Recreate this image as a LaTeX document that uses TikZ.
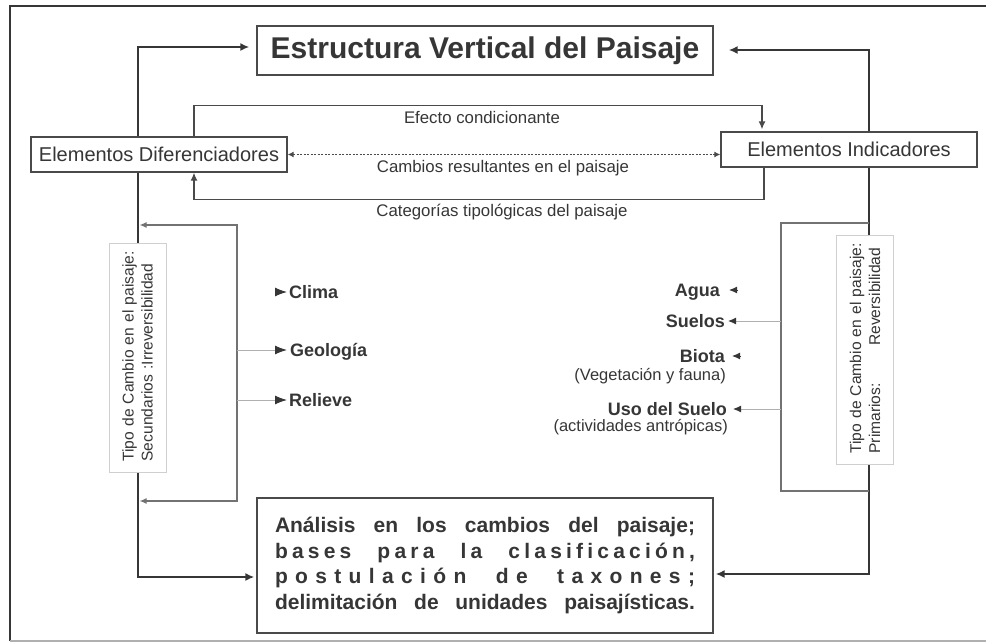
\documentclass[tikz,border=0pt]{standalone}
\usepackage{fontspec}
\setmainfont{Liberation Sans}
\usepackage{tikz}
\usetikzlibrary{arrows.meta,positioning,backgrounds}

\definecolor{ink}{HTML}{363636}
\definecolor{faint}{HTML}{B0B0B0}
\definecolor{pale}{HTML}{CFCFCF}

\newcommand{\wordgap}{\hspace{0.3em plus 1fil}}
\newcommand{\sideindent}{\hspace*{9pt}}

\tikzset{
	heavy/.style={draw=ink,line width=2.6pt},
	light/.style={draw=ink!90,line width=1.3pt},
	bracket/.style={draw=ink!70,line width=1.4pt},
	feeder/.style={draw=faint,line width=1pt},
	framebox/.style={draw=ink!90,line width=1.3pt,fill=white,inner sep=0pt,text=ink},
	sidebox/.style={draw=pale,line width=1pt,fill=white,rotate=90,inner sep=0pt,text=ink,align=left,
		minimum width=229pt,minimum height=57pt,text width=226pt,font=\fontsize{15.6}{19}\selectfont},
	item/.style={inner sep=0pt,text=ink,text height=13pt,text depth=0pt,font=\bfseries\fontsize{18}{20}\selectfont},
	note/.style={inner sep=0pt,text=ink,font=\fontsize{16.5}{19}\selectfont},
	linklabel/.style={inner sep=0pt,text=ink,font=\fontsize{16.8}{19}\selectfont},
}

\begin{document}
\begin{tikzpicture}[x=1pt,y=-1pt]
	\useasboundingbox (0,0) rectangle (986,643);
	% frame
	\draw[heavy] (986,6) -- (10,6) -- (10,641);
	\draw[draw=faint,line width=1.5pt] (10,641) -- (986,641);

	% main boxes
	\node[framebox,minimum width=456pt,minimum height=49pt,font=\bfseries\fontsize{30}{36}\selectfont] (title) at (485,50.5) {Estructura Vertical del Paisaje};
	\node[framebox,minimum width=256pt,minimum height=35pt,font=\fontsize{20}{24}\selectfont] (diff) at (159,154.5) {Elementos Diferenciadores};
	\node[framebox,minimum width=256pt,minimum height=35pt,font=\fontsize{20}{24}\selectfont] (ind) at (849,149.5) {Elementos Indicadores};
	\node[framebox,minimum width=456pt,minimum height=135pt,text width=420pt,align=left,font=\bfseries\fontsize{21}{25.5}\selectfont] (synth) at (485,565.5) {%
		\makebox[\linewidth][s]{Análisis\wordgap en\wordgap los\wordgap cambios\wordgap del\wordgap paisaje;}\\
		{\addfontfeature{LetterSpace=20}\makebox[\linewidth][s]{bases\wordgap para\wordgap la\wordgap clasificación,}}\\
		{\addfontfeature{LetterSpace=35}\makebox[\linewidth][s]{postulación\wordgap de\wordgap taxones;}}\\
		\makebox[\linewidth][s]{delimitación\wordgap de\wordgap unidades\wordgap paisajísticas.}};

	% link labels
	\node[linklabel] (efecto) at (482,117) {Efecto condicionante};
	\node[linklabel] (cambios) at (503,168) {Cambios resultantes en el paisaje};
	\node[linklabel] (categ) at (502,212) {Categorías tipológicas del paisaje};

	% side boxes
	\node[sidebox] (secund) at (137.5,357.5) {\sideindent Tipo de Cambio en el paisaje:\\\sideindent Secundarios :Irreversibilidad};
	\node[sidebox] (prim) at (865,349.5) {\sideindent Tipo de Cambio en el paisaje:\\\sideindent Primarios:\hspace{2.4em}Reversibilidad};

	% differentiating elements
	\node[item,anchor=west] (clima) at (289,292) {Clima};
	\node[item,anchor=west] (geo) at (290,350) {Geología};
	\node[item,anchor=west] (relieve) at (289,400) {Relieve};

	% indicating elements
	\node[item,anchor=east] (agua) at (720,290) {Agua};
	\node[item,anchor=east] (suelos) at (725,321) {Suelos};
	\node[item,anchor=east] (biota) at (725,356) {Biota};
	\node[note,anchor=base east] (veget) at (726,380) {(Vegetación y fauna)};
	\node[item,anchor=east] (uso) at (727,409) {Uso del Suelo};
	\node[note,anchor=base east] (activ) at (728,431) {(actividades antrópicas)};

	% bare arrow tips
	\draw[draw=ink,line width=1pt,-{Latex[length=12pt,width=9pt]}] ([xshift=-14pt]clima.west) -- ([xshift=-2pt]clima.west);
	\draw[draw=ink,line width=1pt,-{Latex[length=8pt,width=7pt]}] ([xshift=17pt]agua.east) -- ([xshift=9pt]agua.east);
	\draw[draw=ink,line width=1pt,-{Latex[length=8pt,width=7pt]}] ([xshift=15pt]biota.east) -- ([xshift=7pt]biota.east);

	\begin{scope}[on background layer]
		\coordinate (lt) at (138,47);
		\coordinate (lb) at (138,577);
		\coordinate (rt) at (869,50);
		\coordinate (rb) at (869,574);
		\coordinate (lbt) at (237,225);
		\coordinate (lbb) at (237,501);
		\coordinate (rbt) at (781,223);
		\coordinate (rbb) at (781,491);

		\draw[heavy,{Latex[length=9pt,width=8pt]}-{Latex[length=9pt,width=8pt]},shorten <=7pt,shorten >=2pt] (title.west |- lt) -- (lt) -- (lb) -- (lb -| synth.west);
		\draw[heavy,{Latex[length=9pt,width=8pt]}-{Latex[length=9pt,width=8pt]},shorten <=15pt,shorten >=2pt] (title.east |- rt) -- (rt) -- (rb) -- (rb -| synth.east);

		\draw[light,-{Latex[length=8pt,width=7pt]},shorten >=2pt] ([xshift=35pt]diff.north) -- ++(0,-31) -| ([xshift=-87pt]ind.north);
		\draw[light,line width=1.3pt,dash pattern=on 2pt off 1.5pt,{Latex[length=6pt,width=6pt]}-{Latex[length=6pt,width=6pt]}] (diff.east) -- (diff.east -| ind.west);
		\draw[light,-{Latex[length=8pt,width=7pt]}] ([xshift=-85pt]ind.south) -- ++(0,32) -| ([xshift=35pt]diff.south);

		\draw[bracket,{Latex[length=7pt,width=6pt]}-{Latex[length=7pt,width=6pt]},shorten <=1.5pt,shorten >=1.5pt] (lbt -| lt) -- (lbt) -- (lbb) -- (lbb -| lt);
		\draw[bracket] (rbt -| rt) -- (rbt) -- (rbb) -- (rbb -| rt);

		\draw[feeder,-{Latex[color=ink,length=12pt,width=9pt]}] (geo.west -| lbt) -- ([xshift=-3pt]geo.west);
		\draw[feeder,-{Latex[color=ink,length=12pt,width=9pt]}] (relieve.west -| lbt) -- ([xshift=-2pt]relieve.west);
		\draw[feeder,-{Latex[color=ink,length=8pt,width=7pt]}] (suelos.east -| rbt) -- ([xshift=3pt]suelos.east);
		\draw[feeder,-{Latex[color=ink,length=8pt,width=7pt]}] (uso.east -| rbt) -- ([xshift=6pt]uso.east);
	\end{scope}
\end{tikzpicture}
\end{document}
